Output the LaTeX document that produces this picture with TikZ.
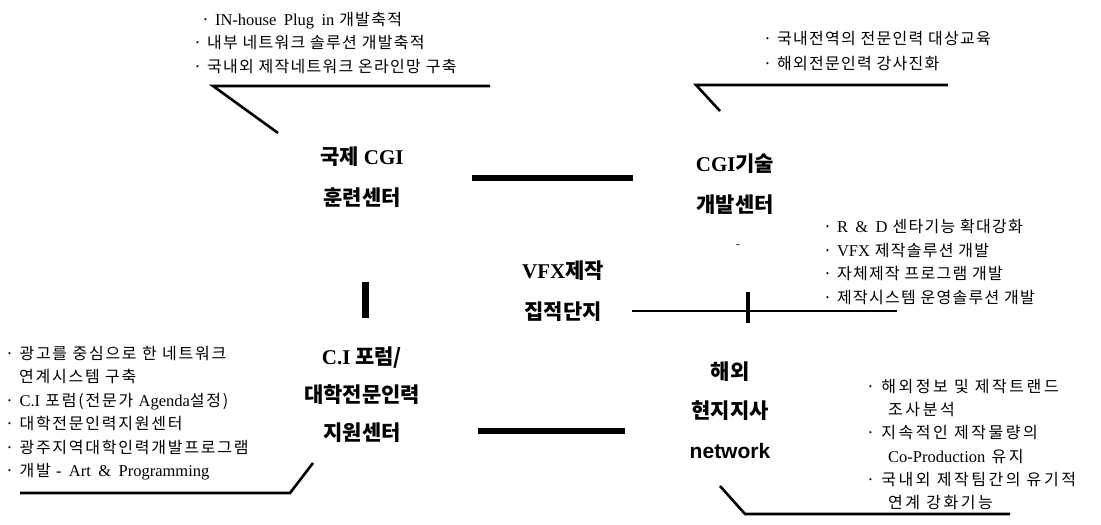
\documentclass[tikz,border=0pt]{standalone}
\usepackage{fontspec}
\setmainfont{Noto Sans CJK KR}
\newfontfamily\lat[WordSpace=1.8]{Liberation Serif}
\newfontfamily\latsans{Liberation Sans}
\tikzset{
  body/.style={anchor=north west, inner sep=0pt, align=left, font=\fontsize{16}{23.5}\selectfont\addfontfeature{LetterSpace=8}},
  ttl/.style={inner sep=0pt, align=center, font=\fontsize{21}{41}\selectfont\bfseries},
  conn/.style={line width=2.6pt},
  bar/.style={line width=5.5pt},
}
\newcommand{\lt}[1]{{\fontsize{16.5}{23.5}\lat #1}}
\begin{document}
\begin{tikzpicture}[x=1pt,y=-1pt]
\useasboundingbox (0,0) rectangle (1101,525);
% top-left block
\node[body] (tl) at (193,12) {\hspace{8pt}· \lt{IN-house Plug in} 개발축적\\· 내부 네트워크 솔루션 개발축적\\· 국내외 제작네트워크 온라인망 구축};
\coordinate (tlA) at (213,86);
\coordinate (tlB) at (490,86);
\coordinate (tlC) at (278,133);
\draw[conn] (tlB) -- (tlA) -- (tlC);
% top-right block
\node[body,font=\fontsize{16}{25}\selectfont\addfontfeature{LetterSpace=8}] (tr) at (763,31) {· 국내전역의 전문인력 대상교육\\· 해외전문인력 강사진화};
\coordinate (trA) at (696,85);
\coordinate (trB) at (948,85);
\coordinate (trC) at (720,111);
\draw[conn] (trB) -- (trA) -- (trC);
% titles
\node[ttl] (cgi) at (362,177) {국제 {\lat\bfseries CGI}\\훈련센터};
\node[ttl] (dev) at (735,184) {{\lat\bfseries CGI}기술\\개발센터};
\node[ttl] (vfx) at (563,291) {{\lat\bfseries VFX}제작\\집적단지};
\node[ttl,font=\fontsize{21}{38}\selectfont\bfseries] (ci) at (362,395) {{\lat\bfseries C.I} 포럼/\\대학전문인력\\지원센터};
\node[ttl,font=\fontsize{21}{39.5}\selectfont\bfseries] (ovs) at (730,410) {해외\\현지지사\\{\latsans\bfseries network}};
\node[inner sep=0pt, font=\fontsize{12}{12}\selectfont] (dash) at (738,247) {-};
% bars
\coordinate (b1a) at (472,178);
\coordinate (b1b) at (633,178);
\draw[bar] (b1a) -- (b1b);
\coordinate (b2a) at (478,431);
\coordinate (b2b) at (625,431);
\draw[bar] (b2a) -- (b2b);
\coordinate (b3a) at (365,282);
\coordinate (b3b) at (365,318);
\draw[line width=7pt] (b3a) -- (b3b);
\coordinate (l4a) at (632,311);
\coordinate (l4b) at (897,311);
\draw[conn] (l4a) -- (l4b);
\coordinate (t4a) at (748,292);
\coordinate (t4b) at (748,323);
\draw[line width=4.5pt] (t4a) -- (t4b);
% right middle block
\node[body] (rm) at (823,219) {· \lt{R \& D} 센타기능 확대강화\\· \lt{VFX} 제작솔루션 개발\\· 자체제작 프로그램 개발\\· 제작시스템 운영솔루션 개발};
% bottom-left block
\node[body,font=\fontsize{16}{23.5}\selectfont\addfontfeature{LetterSpace=11}] (bl) at (5,346) {· 광고를 중심으로 한 네트워크\\\hspace{14pt}연계시스템 구축\\· \lt{C.I} 포럼(전문가 \lt{Agenda}설정)\\· 대학전문인력지원센터\\· 광주지역대학인력개발프로그램\\· 개발 \lt{- Art \& Programming}};
\coordinate (blA) at (20,493);
\coordinate (blB) at (290,493);
\coordinate (blC) at (313,463);
\draw[conn] (blA) -- (blB) -- (blC);
% bottom-right block
\node[body,font=\fontsize{16}{23.2}\selectfont\addfontfeature{LetterSpace=16}] (br) at (866,379) {· 해외정보 및 제작트랜드\\\hspace{22pt}조사분석\\· 지속적인 제작물량의\\\hspace{22pt}\lt{Co-Production} 유지\\· 국내외 제작팀간의 유기적\\\hspace{22pt}연계 강화기능};
\coordinate (brA) at (720,486);
\coordinate (brB) at (745,514);
\coordinate (brC) at (1010,514);
\draw[conn] (brA) -- (brB) -- (brC);
\end{tikzpicture}
\end{document}
